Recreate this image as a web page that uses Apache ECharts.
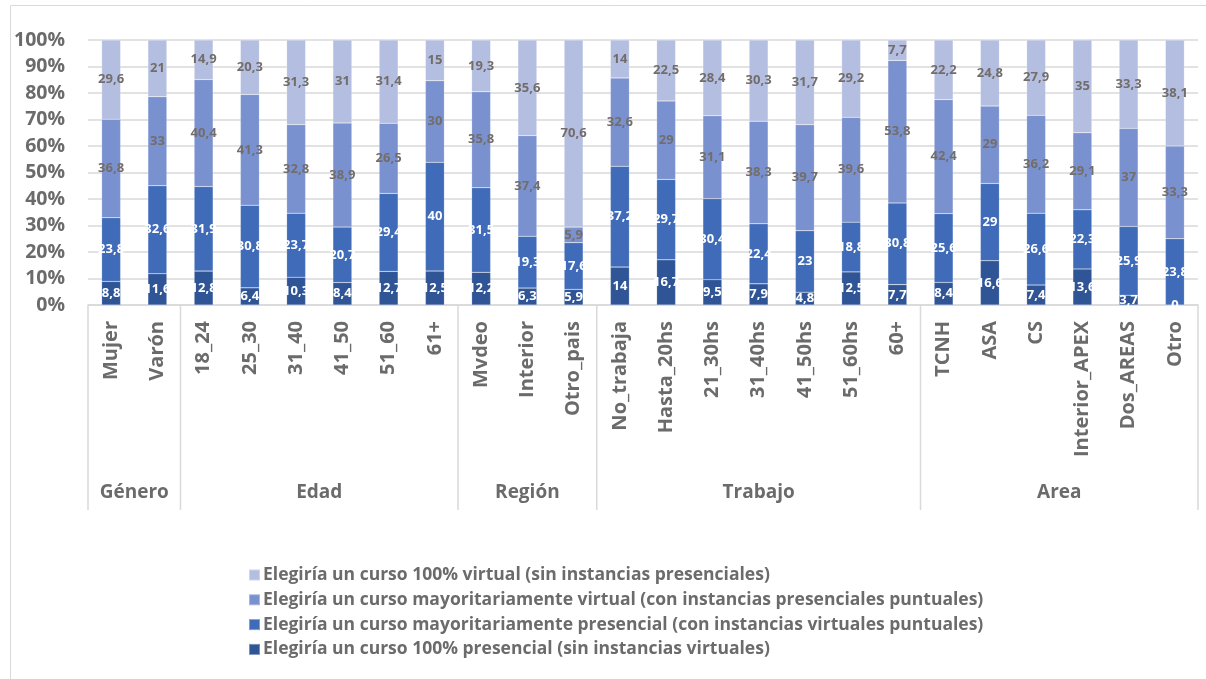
<!DOCTYPE html>
<html>
<head>
<meta charset="utf-8">
<script src="https://cdn.jsdelivr.net/npm/echarts@6/dist/echarts.min.js"></script>
<style>
html,body{margin:0;padding:0;background:#fff;}
#c{width:1206px;height:679px;}
</style>
</head>
<body>
<div id="c"></div>
<script>
const categories = ['Mujer','Varón','18_24','25_30','31_40','41_50','51_60','61+','Mvdeo','Interior','Otro_pais','No_trabaja','Hasta_20hs','21_30hs','31_40hs','41_50hs','51_60hs','60+','TCNH','ASA','CS','Interior_APEX','Dos_AREAS','Otro'];
const groupNames = ['Género','Edad','Región','Trabajo','Area'];
const groupSizes = [2,6,3,7,6];
const yTicks = [0,10,20,30,40,50,60,70,80,90,100];

const seriesNames = [
  'Elegiría un curso 100% presencial (sin instancias virtuales)',
  'Elegiría un curso mayoritariamente presencial (con instancias virtuales puntuales)',
  'Elegiría un curso mayoritariamente virtual (con instancias presenciales puntuales)',
  'Elegiría un curso 100% virtual (sin instancias presenciales)'
];
const presencial100 = [8.8,11.6,12.8,6.4,10.3,8.4,12.7,12.5,12.2,6.3,5.9,14,16.7,9.5,7.9,4.8,12.5,7.7,8.4,16.6,7.4,13.6,3.7,0];
const mayorPresencial = [23.8,32.6,31.9,30.8,23.7,20.7,29.4,40,31.5,19.3,17.6,37.2,29.7,30.4,22.4,23,18.8,30.8,25.6,29,26.6,22.3,25.9,23.8];
const mayorVirtual = [36.8,33,40.4,41.3,32.8,38.9,26.5,30,35.8,37.4,5.9,32.6,29,31.1,38.3,39.7,39.6,53.8,42.4,29,36.2,29.1,37,33.3];
const virtual100 = [29.6,21,14.9,20.3,31.3,31,31.4,15,19.3,35.6,70.6,14,22.5,28.4,30.3,31.7,29.2,7.7,22.2,24.8,27.9,35,33.3,38.1];

const raw = [presencial100, mayorPresencial, mayorVirtual, virtual100];
const colors = ['#2F5597','#3F6BB8','#7A91CF','#B3BEE0'];
const labelColors = ['#ffffff','#ffffff','#726d6b','#726d6b'];
const FONT = 'Open Sans';
const txt = '#6b6b6b';

const totals = categories.map((_, i) => raw.reduce((s, arr) => s + arr[i], 0));
const fmt = v => String(v).replace('.', ',');

const chart = echarts.init(document.getElementById('c'), null, {renderer: 'canvas'});

const series = raw.map((arr, si) => ({
  name: seriesNames[si],
  type: 'bar',
  stack: 'total',
  barWidth: '41%',
  data: arr.map((v, i) => v / totals[i] * 100),
  itemStyle: {color: colors[si], borderColor: 'rgba(255,255,255,0.35)', borderWidth: 0.5},
  label: {
    show: true,
    position: 'inside',
    formatter: p => fmt(arr[p.dataIndex]),
    color: labelColors[si],
    fontFamily: FONT,
    fontWeight: 'bold',
    fontSize: 13
  },
  emphasis: {disabled: true}
}));

chart.setOption({
  animation: false,
  grid: {left: 88, right: 8, top: 40, bottom: 374, containLabel: false},
  legend: {
    orient: 'vertical',
    left: 243,
    top: 561,
    itemWidth: 11,
    itemHeight: 11,
    itemGap: 6.8,
    icon: 'rect',
    data: [seriesNames[3], seriesNames[2], seriesNames[1], seriesNames[0]],
    textStyle: {fontFamily: FONT, fontWeight: 'bold', fontSize: 17.5, color: txt, padding: [0,0,0,-2]}
  },
  xAxis: {
    type: 'category',
    data: categories,
    axisLine: {lineStyle: {color: '#d9d9d9', width: 1.5}},
    axisTick: {show: false},
    axisLabel: {
      rotate: 90,
      interval: 0,
      margin: 16,
      fontFamily: FONT,
      fontWeight: 'bold',
      fontSize: 20,
      color: txt
    }
  },
  yAxis: {
    type: 'value',
    min: yTicks[0],
    max: yTicks[yTicks.length - 1],
    interval: yTicks[1] - yTicks[0],
    axisLine: {show: false},
    axisTick: {show: false},
    splitLine: {lineStyle: {color: '#d9d9d9', width: 1.5}},
    axisLabel: {
      formatter: '{value}%',
      margin: 23,
      fontFamily: FONT,
      fontWeight: 'bold',
      fontSize: 19.5,
      color: txt
    }
  },
  series: series
});

// Multi-level axis: group separators and group labels
const c0 = chart.convertToPixel({xAxisIndex: 0}, 0);
const c1 = chart.convertToPixel({xAxisIndex: 0}, 1);
const band = c1 - c0;
const axisY = chart.convertToPixel({yAxisIndex: 0}, 0);
const sepBottom = 510;
const graphics = [];
let start = 0;
const bx = i => c0 - band / 2 + i * band;
graphics.push({type: 'line', shape: {x1: bx(0), y1: axisY, x2: bx(0), y2: sepBottom}, style: {stroke: '#d9d9d9', lineWidth: 1.5}});
groupSizes.forEach((n, gi) => {
  const end = start + n;
  graphics.push({type: 'line', shape: {x1: bx(end), y1: axisY, x2: bx(end), y2: sepBottom}, style: {stroke: '#d9d9d9', lineWidth: 1.5}});
  graphics.push({
    type: 'text',
    x: (bx(start) + bx(end)) / 2,
    y: 493,
    style: {text: groupNames[gi], fill: txt, font: 'bold 19px "' + FONT + '"', textAlign: 'center', textVerticalAlign: 'middle'}
  });
  start = end;
});
graphics.push({type: 'rect', shape: {x: 10.5, y: 5.5, width: 1210, height: 690}, style: {fill: 'none', stroke: '#d9d9d9', lineWidth: 1}});
chart.setOption({graphic: graphics});
</script>
</body>
</html>
